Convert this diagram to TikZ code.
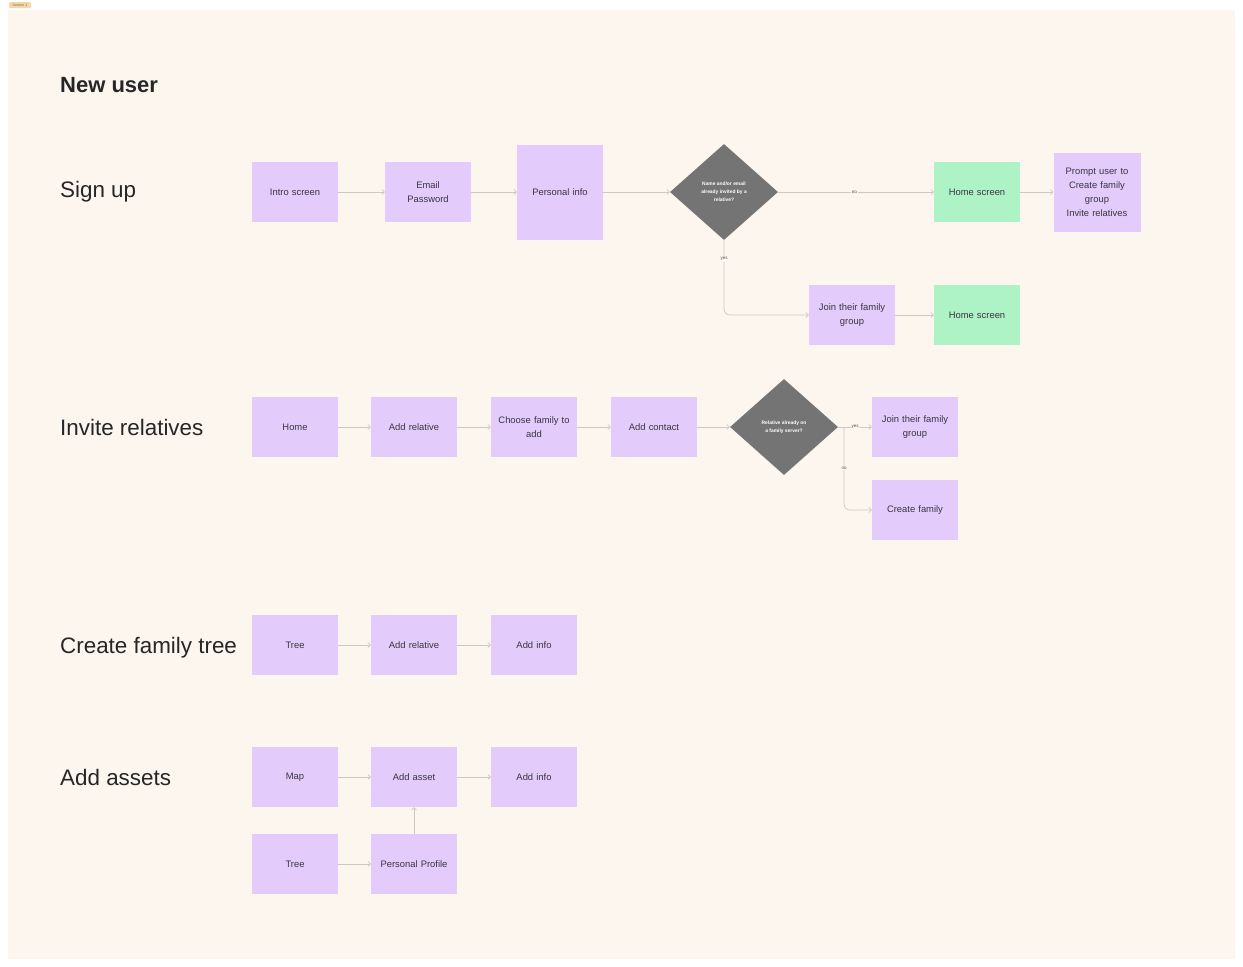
\documentclass[tikz,border=0pt]{standalone}
\usepackage{fontspec}
\setmainfont{Liberation Sans}
\usetikzlibrary{shapes.geometric,arrows.meta}
\definecolor{bg}{HTML}{FDF6EF}
\definecolor{lav}{HTML}{E3CCFC}
\definecolor{mint}{HTML}{AEF3C6}
\definecolor{dgray}{HTML}{747474}
\definecolor{txt}{HTML}{3A3440}
\definecolor{edge}{HTML}{CEC8C2}
\definecolor{tagc}{HTML}{F7D6A6}
\tikzset{
  box/.style={fill=lav, draw=none, minimum width=86pt, minimum height=60pt, inner sep=2pt, align=center, text=txt, font=\fontsize{9.4}{14}\selectfont, text width=80pt},
  greenbox/.style={box, fill=mint},
  decision/.style={diamond, fill=dgray, draw=none, minimum width=108pt, minimum height=96pt, inner sep=0pt, align=center, text=white, font=\fontsize{4.9}{8}\selectfont\bfseries},
  flow/.style={draw=edge, line width=0.7pt, -{Straight Barb[length=2.5pt,width=5pt]}, rounded corners=6pt},
  heading/.style={anchor=west, text=black!85, font=\fontsize{22.4}{26}\selectfont, inner sep=0pt},
  elabel/.style={fill=bg, inner sep=1pt, text=black!70, font=\fontsize{4.5}{5}\selectfont},
}
\begin{document}
\begin{tikzpicture}[x=1pt,y=-1pt]
\useasboundingbox (0,0) rectangle (1243,967);
\fill[white] (0,0) rectangle (1243,967);
\fill[bg] (8,10) rectangle (1235,959);
\node[fill=tagc, rounded corners=1pt, inner sep=0.6pt, minimum width=22pt, minimum height=6pt, font=\fontsize{3.5}{4}\selectfont, text=black!60] (tag) at (20,5) {Section 1};

\node[heading, font=\fontsize{22}{26}\selectfont\bfseries] (newuser) at (60,85) {New user};
\node[heading] (hsign) at (60,192) {Sign up};
\node[heading] (hinvite) at (60,427) {Invite relatives};
\node[heading] (htree) at (60,648) {Create family tree};
\node[heading] (hassets) at (60,777) {Add assets};

% Sign up
\node[box] (intro) at (295,192) {Intro screen};
\node[box] (email) at (428,192) {Email\\Password};
\node[box, minimum height=95pt] (pinfo) at (560,192) {Personal info};
\node[decision] (d1) at (724,192) {Name and/or email\\already invited by a\\relative?};
\node[greenbox] (home1) at (977,192) {Home screen};
\node[box, minimum width=87pt, minimum height=79pt] (prompt) at (1097,192) {Prompt user to\\Create family\\group\\Invite relatives};
\node[box] (join1) at (852,315) {Join their family\\group};
\node[greenbox] (home2) at (977,315) {Home screen};

\draw[flow] (intro) -- (email);
\draw[flow] (email) -- (pinfo);
\draw[flow] (pinfo) -- (d1);
\draw[flow] (d1) -- node[elabel, pos=0.49] {no} (home1);
\draw[flow] (home1) -- (prompt);
\draw[flow] (d1.south) -- (d1.south |- join1.west) -- (join1.west);
\node[elabel] (yes1) at (724,259) {yes};
\draw[flow] (join1) -- (home2);

% Invite relatives
\node[box] (home3) at (295,427) {Home};
\node[box] (addrel1) at (414,427) {Add relative};
\node[box] (choose) at (534,427) {Choose family to\\add};
\node[box] (addcon) at (654,427) {Add contact};
\node[decision] (d2) at (784,427) {Relative already on\\a family server?};
\node[box] (join2) at (915,427) {Join their family\\group};
\node[box] (create) at (915,510) {Create family};
\coordinate (split) at (844,427);

\draw[flow] (home3) -- (addrel1);
\draw[flow] (addrel1) -- (choose);
\draw[flow] (choose) -- (addcon);
\draw[flow] (addcon) -- (d2);
\draw[flow] (d2) -- node[elabel, pos=0.5] {yes} (join2);
\draw[flow] (split) -- (split |- create.west) -- (create.west);
\node[elabel] (no2) at (844,468) {no};

% Create family tree
\node[box] (tree1) at (295,645) {Tree};
\node[box] (addrel2) at (414,645) {Add relative};
\node[box] (addinfo1) at (534,645) {Add info};
\draw[flow] (tree1) -- (addrel2);
\draw[flow] (addrel2) -- (addinfo1);

% Add assets
\node[box] (map) at (295,777) {Map};
\node[box] (addasset) at (414,777) {Add asset};
\node[box] (addinfo2) at (534,777) {Add info};
\node[box] (tree2) at (295,864) {Tree};
\node[box] (pprof) at (414,864) {Personal Profile};
\draw[flow] (map) -- (addasset);
\draw[flow] (addasset) -- (addinfo2);
\draw[flow] (tree2) -- (pprof);
\draw[flow] (pprof) -- (addasset);
\end{tikzpicture}
\end{document}
